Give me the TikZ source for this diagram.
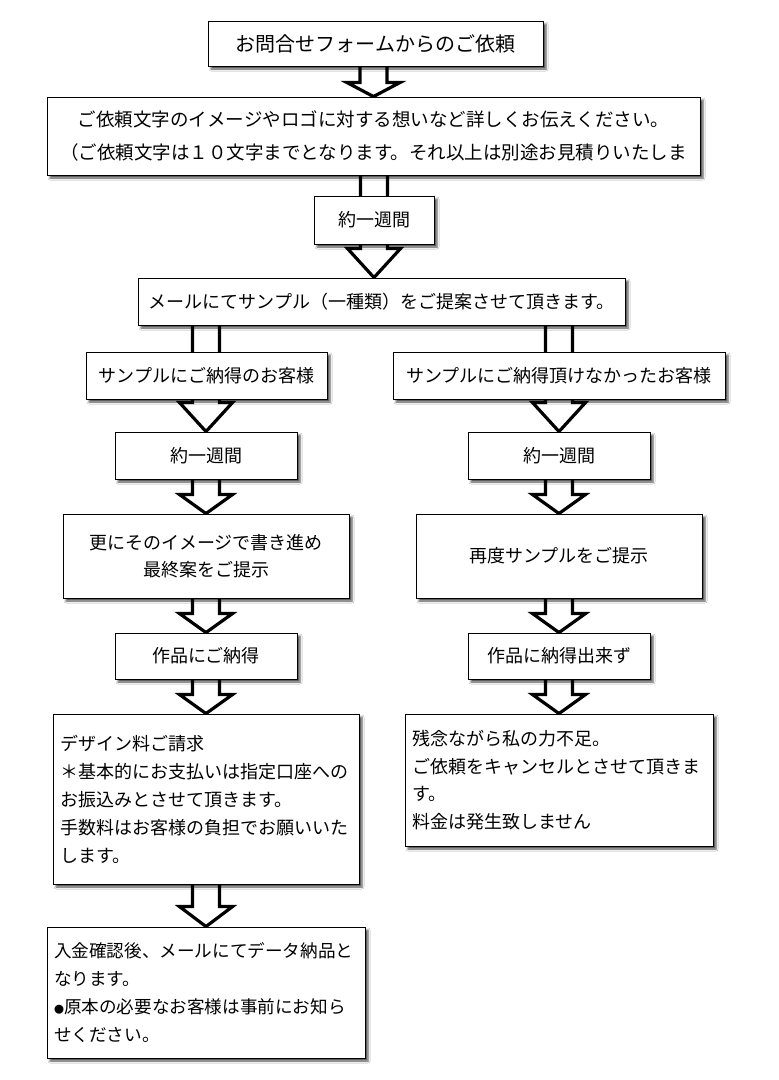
\documentclass[tikz,border=0pt]{standalone}
\usepackage{fontspec}
\setmainfont{Noto Sans CJK JP}
\usepackage{tikz}
\usetikzlibrary{calc, positioning, shadows, shadows.blur, backgrounds}

% hollow block arrow: from, to, node giving the x, head length
\newcommand{\bigarrow}[4]{%
	\path[arrowbody] let \p1 = (#1.south), \p2 = (#2.north), \p3 = (#3.center) in
		(\x3-13.5pt, \y1+3pt) -- (\x3+13.5pt, \y1+3pt) -- (\x3+13.5pt, \y2+#4pt)
		-- (\x3+26.5pt, \y2+#4pt) -- (\x3, \y2) -- (\x3-26.5pt, \y2+#4pt)
		-- (\x3-13.5pt, \y2+#4pt) -- cycle;}

\begin{document}
\begin{tikzpicture}[x=1pt, y=-1pt]
				\tikzstyle{box} = [draw=black, line width=0.9pt, fill=white, inner sep=0pt, font=\fontsize{18}{28}\selectfont, blur shadow={shadow xshift=3pt, shadow yshift=-3pt, shadow blur radius=2pt, shadow opacity=70}]
				\tikzstyle{note} = [box, align=left, inner xsep=7pt]
				\tikzstyle{arrowbody} = [draw=black, line width=3.2pt, fill=white, line join=miter]

				\useasboundingbox (0,0) rectangle (779,1080);

				\node[box, minimum width=335, minimum height=45, font=\fontsize{20}{24}\selectfont]	at (375.5, 43.5)	(inquiry)	{お問合せフォームからのご依頼};
				\node[box, minimum width=653, minimum height=78, align=center, font=\fontsize{18.5}{33}\selectfont]	at (373.5, 136)	(request)	{ご依頼文字のイメージやロゴに対する想いなど詳しくお伝えください。\\（ご依頼文字は１０文字までとなります。それ以上は別途お見積りいたしま};
				\node[box, minimum width=120, minimum height=48]	at (374, 220)		(week)		{約一週間};
				\node[box, minimum width=487, minimum height=47]	at (381.5, 301.5)	(proposal)	{メールにてサンプル（一種類）をご提案させて頂きます。};

				% left branch
				\node[box, minimum width=241, minimum height=47]	at (206.5, 375.5)	(ok)		{サンプルにご納得のお客様};
				\node[box, minimum width=182, minimum height=47]	at (206, 455.5)	(okweek)	{約一週間};
				\node[box, minimum width=286, minimum height=84, align=center, font=\fontsize{18}{27}\selectfont]	at (206, 556)	(okfinal)	{更にそのイメージで書き進め\\最終案をご提示};
				\node[box, minimum width=182, minimum height=46]	at (206, 656)		(okaccept)	{作品にご納得};
				\node[note, text width=292, minimum height=170]	at (206, 799)		(okinvoice)	{デザイン料ご請求\\＊基本的にお支払いは指定口座への\\お振込みとさせて頂きます。\\手数料はお客様の負担でお願いいた\\します。};
				\node[note, text width=304, minimum height=131, font=\fontsize{17.6}{28}\selectfont]	at (206, 992.5)	(okdelivery)	{入金確認後、メールにてデータ納品と\\なります。\\{\fontsize{10}{28}\selectfont ●}原本の必要なお客様は事前にお知ら\\せください。};

				% right branch
				\node[box, minimum width=332, minimum height=47]	at (559, 375.5)	(ng)		{サンプルにご納得頂けなかったお客様};
				\node[box, minimum width=182, minimum height=47]	at (559, 455.5)	(ngweek)	{約一週間};
				\node[box, minimum width=286, minimum height=84]	at (559, 556)		(ngsample)	{再度サンプルをご提示};
				\node[box, minimum width=182, minimum height=46]	at (559, 656)		(ngreject)	{作品に納得出来ず};
				\node[note, text width=294, minimum height=132, font=\fontsize{18}{27.6}\selectfont]	at (559, 780)		(ngcancel)	{残念ながら私の力不足。\\ご依頼をキャンセルとさせて頂きま\\す。\\料金は発生致しません};

				\begin{scope}[on background layer]
				\fill[white] (0,0) rectangle (779,1080);
				\bigarrow{inquiry}{request}{request}{14}
				\bigarrow{request}{proposal}{week}{29}
				\bigarrow{proposal}{okweek}{okweek}{29}
				\bigarrow{proposal}{ngweek}{ngweek}{29}
				\bigarrow{okweek}{okfinal}{okfinal}{19}
				\bigarrow{okfinal}{okaccept}{okaccept}{19}
				\bigarrow{okaccept}{okinvoice}{okinvoice}{19}
				\bigarrow{okinvoice}{okdelivery}{okdelivery}{20}
				\bigarrow{ngweek}{ngsample}{ngsample}{19}
				\bigarrow{ngsample}{ngreject}{ngreject}{19}
				\bigarrow{ngreject}{ngcancel}{ngcancel}{19}
				\end{scope}
			\end{tikzpicture}
\end{document}
